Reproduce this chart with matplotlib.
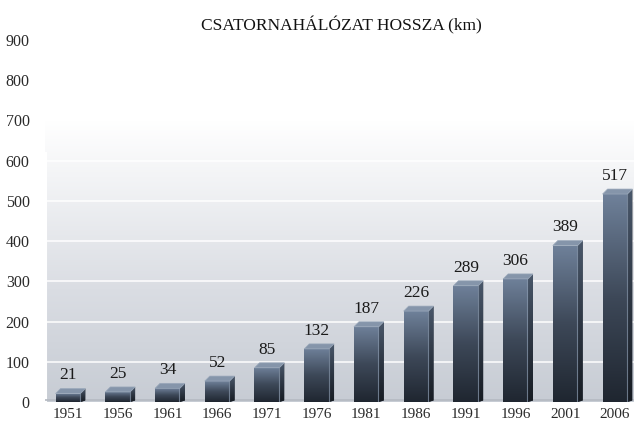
import matplotlib
matplotlib.use('Agg')
import matplotlib.pyplot as plt
import numpy as np
from matplotlib.patches import Polygon
from matplotlib.colors import LinearSegmentedColormap

years = ['1951', '1956', '1961', '1966', '1971', '1976',
         '1981', '1986', '1991', '1996', '2001', '2006']
values = [21, 25, 34, 52, 85, 132, 187, 226, 289, 306, 389, 517]
yticks = [0, 100, 200, 300, 400, 500, 600, 700, 800, 900]
title = 'CSATORNAHÁLÓZAT HOSSZA (km)'

SERIF = ['Liberation Serif', 'DejaVu Serif']
W, H = 634, 424
fig = plt.figure(figsize=(W / 100, H / 100), dpi=100)
fig.patch.set_facecolor('white')
ax = fig.add_axes([45 / W, 22 / H, 589 / W, 362 / H])
ax.set_facecolor('white')

x = np.arange(len(values))
ppu = 49.73  # pixels per category unit
xl0, xl1 = -23 / ppu, 11 + 19 / ppu
ppy = 362 / 900  # pixels per value unit

# background gradient
bg_cmap = LinearSegmentedColormap.from_list(
    'bg', [(0, '#c7ccd4'), (0.4, '#dadde3'), (0.8, '#f3f4f6'), (1, '#ffffff')])
grad = np.linspace(0, 1, 256).reshape(-1, 1)
ax.imshow(grad, extent=[xl0, xl1, 0, 700], origin='lower', aspect='auto',
          cmap=bg_cmap, zorder=0, interpolation='bilinear')

for v in yticks[1:7]:
    ax.axhline(v, color='white', lw=1.2, alpha=0.9, zorder=1)
ax.axvline(xl0 + 1 / ppu, ymin=0, ymax=620 / 900, color='white', lw=1.5, zorder=1)
ax.axhline(4, color='#b4b9c1', lw=1.2, zorder=1)

front_cmap = LinearSegmentedColormap.from_list('front', ['#1f2630', '#3d4858', '#6f819a'])
side_cmap = LinearSegmentedColormap.from_list('side', ['#161b22', '#2e3744', '#4a586b'])

bw = 0.5
dx = 5 / ppu
dy = 5 / ppy
bars = ax.bar(x, values, width=bw, color='#3a4454', zorder=3)
for b, v in zip(bars, values):
    x0 = b.get_x()
    x1 = x0 + b.get_width()
    h = b.get_height()
    im = ax.imshow(grad, extent=[x0, x1, 0, h], origin='lower', aspect='auto',
                   cmap=front_cmap, zorder=3.1, interpolation='bilinear')
    im.set_clip_path(b)
    side = Polygon([(x1, 0), (x1 + dx, dy * 0.3), (x1 + dx, h + dy), (x1, h)],
                   closed=True, facecolor='#2a323e', edgecolor='none', zorder=3.2)
    ax.add_patch(side)
    ims = ax.imshow(grad, extent=[x1, x1 + dx, 0, h + dy], origin='lower', aspect='auto',
                    cmap=side_cmap, zorder=3.3, interpolation='bilinear')
    ims.set_clip_path(side)
    ax.plot([x1 - 0.5 / ppu, x1 - 0.5 / ppu], [0, h], color='#8b9bb0', lw=0.8, alpha=0.7, zorder=3.4)
    top = Polygon([(x0, h), (x1, h), (x1 + dx, h + dy), (x0 + dx, h + dy)],
                  closed=True, facecolor='#8595aa', edgecolor='#9aa8ba', lw=0.5, zorder=3.5)
    ax.add_patch(top)
    ax.text(b.get_x() + bw / 2, h + 45, str(v), ha='center', va='center',
            fontsize=12.5, family=SERIF, color='#1a1a1a', zorder=4)

ax.set_xlim(xl0, xl1)
ax.set_ylim(0, 900)
ax.set_xticks(x)
ax.set_xticklabels(years, family=SERIF, fontsize=11, color='#2a2a2a')
ax.set_yticks(yticks)
ax.set_yticklabels([str(t) for t in yticks], family=SERIF, fontsize=11.5, color='#2a2a2a')
ax.tick_params(axis='both', length=0)
ax.tick_params(axis='y', pad=11)
ax.tick_params(axis='x', pad=4)
for s in ax.spines.values():
    s.set_visible(False)

fig.text(341 / W, 1 - 25 / H, title, ha='center', va='center',
         fontsize=12.5, family=SERIF, color='#111111')

fig.savefig('out.png', dpi=100)
